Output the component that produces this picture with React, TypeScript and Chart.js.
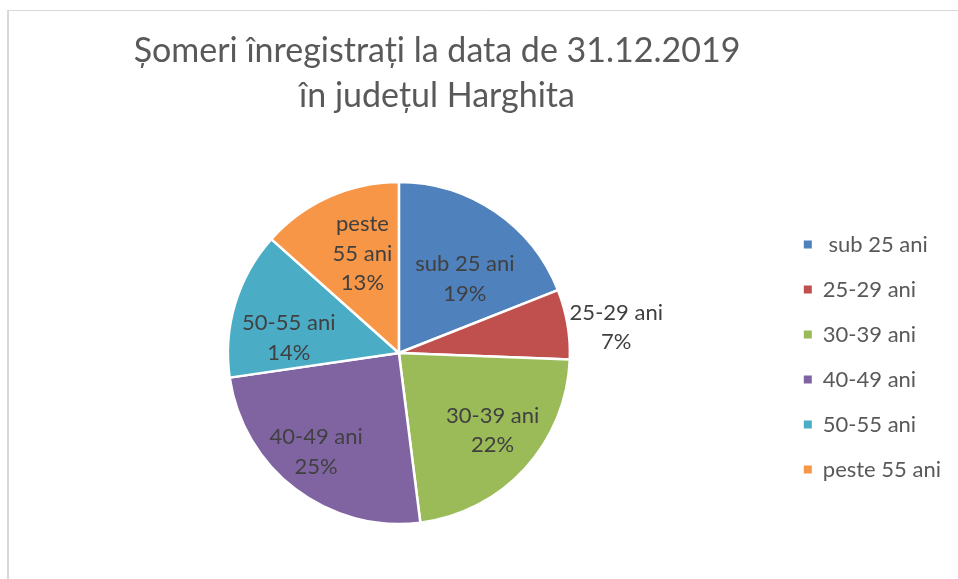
import { useEffect, useRef } from "react";
import { Chart, registerables } from "chart.js";

Chart.register(...registerables);

const categories = [" sub 25 ani", "25-29 ani", "30-39 ani", "40-49 ani", "50-55 ani", "peste 55 ani"];
const values = [19.0, 6.6, 22.4, 24.7, 13.9, 13.4];
const sliceLabelLines = [["sub 25 ani"], ["25-29 ani"], ["30-39 ani"], ["40-49 ani"], ["50-55 ani"], ["peste", "55 ani"]];
const titleLines = ["Șomeri înregistrați la data de 31.12.2019", "în județul Harghita"];

const colors = ["#4F81BD", "#C0504D", "#9BBB59", "#8064A2", "#4BACC6", "#F79646"];
// label placement (style): radial fraction of the radius and angular shift from the slice middle
const labelRadius = [0.58, 1.28, 0.71, 0.755, 0.65, 0.62];
const labelShiftDeg = [7.5, 3, -3, 2.6, -9, 4];

const FONT = "Lato, 'Open Sans', sans-serif";

const framePlugin = {
  id: "frame",
  beforeDraw(chart: any) {
    const ctx = chart.ctx;
    ctx.save();
    ctx.fillStyle = "#ffffff";
    ctx.fillRect(0, 0, chart.width, chart.height);
    ctx.strokeStyle = "#d9d9d9";
    ctx.lineWidth = 1;
    ctx.beginPath();
    ctx.moveTo(7, 10.5);
    ctx.lineTo(chart.width, 10.5);
    ctx.stroke();
    ctx.lineWidth = 2;
    ctx.beginPath();
    ctx.moveTo(8, 10);
    ctx.lineTo(8, chart.height);
    ctx.stroke();
    ctx.restore();
  },
  afterDraw(chart: any) {
    const ctx = chart.ctx;
    ctx.save();
    ctx.fillStyle = "#595959";
    ctx.font = `34px ${FONT}`;
    ctx.textAlign = "center";
    ctx.textBaseline = "alphabetic";
    titleLines.forEach((t, i) => ctx.fillText(t, 437, 62 + i * 45));
    ctx.restore();
  },
};

const sliceLabelPlugin = {
  id: "sliceLabels",
  afterDatasetsDraw(chart: any) {
    const ctx = chart.ctx;
    const meta = chart.getDatasetMeta(0);
    const total = values.reduce((a, b) => a + b, 0);
    ctx.save();
    ctx.fillStyle = "#404040";
    ctx.font = `22px ${FONT}`;
    ctx.textAlign = "center";
    ctx.textBaseline = "middle";
    meta.data.forEach((arc: any, i: number) => {
      const p = arc.getProps(["x", "y", "startAngle", "endAngle", "outerRadius"], true);
      const mid = (p.startAngle + p.endAngle) / 2 + (labelShiftDeg[i] * Math.PI) / 180;
      const r = p.outerRadius * labelRadius[i];
      const cx = p.x + r * Math.cos(mid);
      const cy = p.y + r * Math.sin(mid);
      const pct = Math.round((values[i] / total) * 100) + "%";
      const lines = [...sliceLabelLines[i], pct];
      const lh = 29.5;
      const y0 = cy - ((lines.length - 1) * lh) / 2;
      lines.forEach((l, j) => ctx.fillText(l, cx, y0 + j * lh));
    });
    ctx.restore();
  },
};

export default function App() {
  const ref = useRef<HTMLCanvasElement | null>(null);
  useEffect(() => {
    document.body.style.margin = "0";
    const canvas = ref.current!;
    const chart = new Chart(canvas, {
      type: "pie",
      data: {
        labels: categories,
        datasets: [
          {
            data: values,
            backgroundColor: colors,
            borderColor: "#ffffff",
            borderWidth: 2.5,
            radius: 171,
          },
        ],
      },
      options: {
        animation: false,
        responsive: false,
        layout: { padding: { left: 17, right: 7, top: 182, bottom: 55 } },
        plugins: {
          title: { display: false },
          tooltip: { enabled: false },
          legend: {
            position: "right",
            title: { display: true, text: " ", font: { size: 1 }, padding: { top: 0, bottom: 7 } },
            labels: {
              boxWidth: 8,
              boxHeight: 8,
              padding: 23,
              color: "#595959",
              font: { family: FONT, size: 22 },
              generateLabels(c: any) {
                const items = (Chart as any).overrides.pie.plugins.legend.labels.generateLabels(c);
                return items.map((it: any) => ({ ...it, lineWidth: 0, strokeStyle: it.fillStyle }));
              },
            },
          },
        },
      },
      plugins: [framePlugin, sliceLabelPlugin],
    });
    return () => chart.destroy();
  }, []);
  return <canvas ref={ref} width={958} height={579} style={{ display: "block" }} />;
}
